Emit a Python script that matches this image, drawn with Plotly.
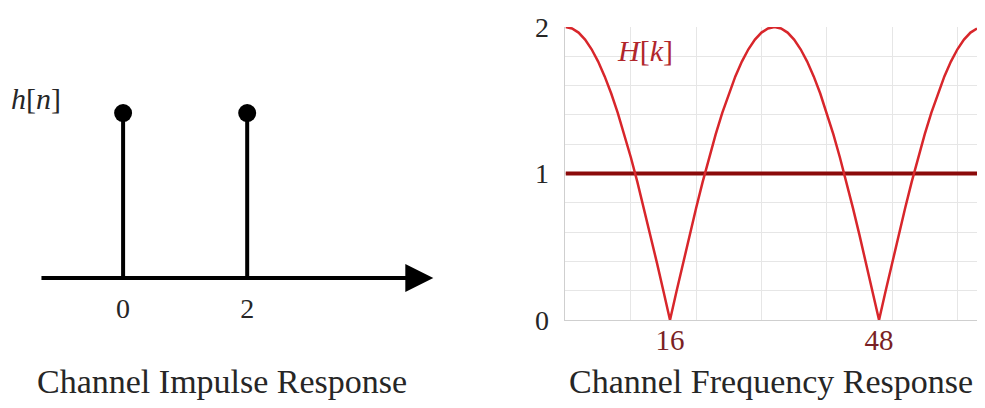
import plotly.graph_objects as go

# channel impulse response h[n]
n_vals = [0, 2]
h_vals = [1, 1]

# channel frequency response |H[k]|, 64-point DFT
k_vals = list(range(64))
H_vals = [2.000, 1.990, 1.962, 1.914, 1.848, 1.764, 1.663, 1.546,
          1.414, 1.269, 1.111, 0.943, 0.765, 0.581, 0.390, 0.196,
          0.000, 0.196, 0.390, 0.581, 0.765, 0.943, 1.111, 1.269,
          1.414, 1.546, 1.663, 1.764, 1.848, 1.914, 1.962, 1.990,
          2.000, 1.990, 1.962, 1.914, 1.848, 1.764, 1.663, 1.546,
          1.414, 1.269, 1.111, 0.943, 0.765, 0.581, 0.390, 0.196,
          0.000, 0.196, 0.390, 0.581, 0.765, 0.943, 1.111, 1.269,
          1.414, 1.546, 1.663, 1.764, 1.848, 1.914, 1.962, 1.990]
ref_level = 1

n_ticks = [0, 2]
k_ticks = [16, 48]
y_ticks = [0, 1, 2]

SERIF = "Liberation Serif, Times New Roman, serif"
DARK_RED = "#8b0a0a"
CURVE_RED = "#d8262b"
TEXT = "#262626"

fig = go.Figure()

# stems
stem_x, stem_y = [], []
for n, h in zip(n_vals, h_vals):
    stem_x += [n, n, None]
    stem_y += [0, h, None]
fig.add_trace(go.Scatter(x=stem_x, y=stem_y, mode="lines",
                         line=dict(color="black", width=4),
                         xaxis="x", yaxis="y", cliponaxis=False))
fig.add_trace(go.Scatter(x=n_vals, y=h_vals, mode="markers",
                         marker=dict(color="black", size=18),
                         xaxis="x", yaxis="y", cliponaxis=False))

# frequency response
fig.add_trace(go.Scatter(x=k_vals, y=[ref_level] * len(k_vals), mode="lines",
                         line=dict(color=DARK_RED, width=4),
                         xaxis="x2", yaxis="y2", cliponaxis=False))
fig.add_trace(go.Scatter(x=k_vals, y=H_vals, mode="lines",
                         line=dict(color=CURVE_RED, width=2.5),
                         xaxis="x2", yaxis="y2", cliponaxis=False))

fig.update_layout(
    width=985, height=408,
    margin=dict(l=0, r=0, t=0, b=0, autoexpand=False),
    paper_bgcolor="white", plot_bgcolor="white",
    showlegend=False,
    xaxis=dict(domain=[0, 0.45], range=[-1.984, 5.16], anchor="y",
               automargin=False,
               tickvals=n_ticks, ticktext=[str(v) for v in n_ticks],
               ticks="", showgrid=False, zeroline=False, showline=False,
               ticklabelstandoff=11,
               tickfont=dict(family=SERIF, size=28, color=TEXT)),
    yaxis=dict(domain=[0.3186, 1], range=[0, 1.685], anchor="x",
               automargin=False, visible=False),
    xaxis2=dict(domain=[0.5741, 0.9919], range=[0, 63], anchor="y2",
                automargin=False,
                tickvals=k_ticks, ticktext=[str(v) for v in k_ticks],
                ticks="", showgrid=False, zeroline=False,
                showline=True, linecolor="#cfcfcf", linewidth=1,
                ticklabelstandoff=-6,
                tickfont=dict(family=SERIF, size=29, color="#7a1f24"),
                minor=dict(tickvals=[10, 20, 30, 40, 50, 60], showgrid=True,
                           gridcolor="#e6e6e6", gridwidth=1)),
    yaxis2=dict(domain=[0.2157, 0.9338], range=[0, 2], anchor="x2",
                automargin=False,
                tickvals=y_ticks, ticktext=[str(v) for v in y_ticks],
                ticks="", showgrid=True, gridcolor="#e6e6e6", zeroline=False,
                showline=True, linecolor="#cfcfcf", linewidth=1,
                ticklabelstandoff=10,
                tickfont=dict(family=SERIF, size=28, color=TEXT),
                minor=dict(dtick=0.2, showgrid=True, gridcolor="#e6e6e6",
                           gridwidth=1)),
)

# horizontal axis arrow of the impulse response
fig.add_annotation(x=5.0, y=0, ax=-1.34, ay=0, xref="x", yref="y",
                   axref="x", ayref="y", text="", showarrow=True,
                   arrowhead=2, arrowsize=1.4, arrowwidth=4,
                   arrowcolor="black")


def label(x_px, y_px, text, size, color):
    fig.add_annotation(x=x_px / 985, y=1 - y_px / 408, xref="paper",
                       yref="paper", xanchor="center", yanchor="middle",
                       text=text, showarrow=False,
                       font=dict(family=SERIF, size=size, color=color))


label(36, 98, "<i>h</i>[<i>n</i>]", 30, TEXT)
label(645, 50, "<i>H</i>[<i>k</i>]", 30, "#b1262b")
label(222, 381, "Channel Impulse Response", 34, TEXT)
label(771, 381, "Channel Frequency Response", 34, TEXT)

fig.write_html("out.html", config={"displayModeBar": False},
               post_script="document.body.style.margin='0';")
